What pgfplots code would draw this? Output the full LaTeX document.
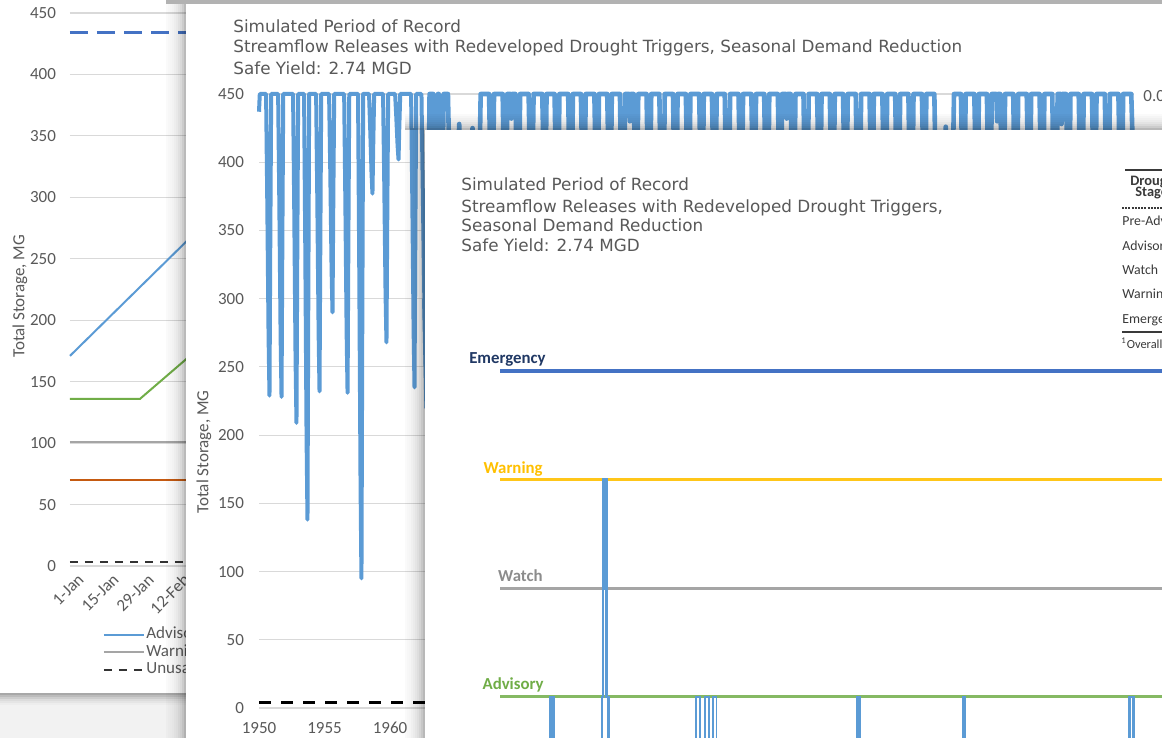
\documentclass[border=0pt]{standalone}
\usepackage{pgfplots}
\pgfplotsset{compat=1.18}
\usepackage{fontspec}
\setmainfont{Carlito}
\newfontfamily\dejavu{DejaVu Sans}
\definecolor{txt}{HTML}{595959}
\definecolor{gridc}{HTML}{D9D9D9}
\definecolor{sblue}{HTML}{5B9BD5}
\definecolor{dblue}{HTML}{4472C4}
\definecolor{sgreen}{HTML}{70AD47}
\definecolor{sgray}{HTML}{A5A5A5}
\definecolor{sbrown}{HTML}{C55A11}
\definecolor{sgold}{HTML}{FFC000}
\definecolor{navy}{HTML}{203864}
\definecolor{bgc}{HTML}{F2F2F2}
\definecolor{tabc}{HTML}{3A3A3A}
\newcommand\tickfont{\fontsize{8.5}{10}\selectfont}
\newcommand\titlefont{\dejavu\fontsize{8.4}{10}\selectfont}
\begin{document}
\begin{tikzpicture}
\useasboundingbox (0pt,0pt) rectangle (581pt,369pt);
\clip (0pt,0pt) rectangle (581pt,369pt);
\begin{scope}[x=0.5pt,y=0.5pt]
% page background and left panel
\fill[bgc] (0,0) rectangle (1162,738);
\fill[white] (0,45) rectangle (1162,738);
\foreach \b/\o in {43/0.30,41/0.22,39/0.15,37/0.09,35/0.05,33/0.02} {\fill[black,opacity=\o] (0,\b) rectangle ++(300,2);}
\end{scope}

% ---------------- left panel ----------------
\begin{axis}[at={(35pt,86pt)}, anchor=south west, scale only axis,
  width=150pt, height=276.5pt,
  xmin=1, xmax=121, ymin=0, ymax=450, clip=false,
  axis line style={draw=none}, major tick length=0pt,
  ymajorgrids, grid style={gridc, line width=0.6pt},
  ytick={0,50,...,450},
  xtick={1,15,29,43,57,71,85,99,113},
  xticklabels={1-Jan,15-Jan,29-Jan,12-Feb,26-Feb,11-Mar,25-Mar,8-Apr,22-Apr},
  /pgf/number format/assume math mode=true,
  tick label style={font=\tickfont, text=txt},
  yticklabel style={xshift=-3.5pt},
  xticklabel style={rotate=45, anchor=north east, xshift=3.5pt, yshift=-1.5pt},
  ylabel={Total Storage, MG},
  ylabel style={font=\tickfont, text=txt, at={(axis description cs:-0.1667,0.488)}, anchor=center},
  legend style={draw=none, fill=none, inner sep=0pt, font=\tickfont, text=txt,
    at={(axis description cs:0.108,-0.1076)}, anchor=north west, row sep=0.25pt,
    nodes={text height=5.5pt, text depth=1.5pt, inner sep=0.8pt}},
  legend cell align=left,
  legend image code/.code={\draw[#1] (0pt,0pt) -- (20pt,0pt);},
]
\addplot[sblue, line width=1pt] coordinates {(1,171) (47,263) (121,411)};
\addlegendentry{Advisory}
\addplot[sgray, line width=1pt] coordinates {(1,101) (121,101)};
\addlegendentry{Warning}
\addplot[black!80, line width=1pt, dash pattern=on 4pt off 3.5pt] coordinates {(1,3) (121,3)};
\addlegendentry{Unusable}
\addplot[forget plot, sgreen, line width=1pt] coordinates {(1,136) (29,136) (57,185) (121,290)};
\addplot[forget plot, sbrown, line width=1pt] coordinates {(1,70) (121,70)};
\addplot[forget plot, dblue, line width=1.2pt, dash pattern=on 9pt off 4.5pt] coordinates {(1,434) (121,434)};
\end{axis}

% ---------------- middle panel ----------------
\begin{scope}[x=0.5pt,y=0.5pt]
\foreach \a/\o in {166/0.02,168/0.03,170/0.04,172/0.05,174/0.07,176/0.09,178/0.12,180/0.15,182/0.2,184/0.27} {\fill[black,opacity=\o] (\a,0) rectangle ++(2,734);}
\fill[white] (186,0) rectangle (1162,734);
\fill[black!30] (166,734) rectangle (1162,738);
\node[anchor=base west, text=txt, font=\titlefont, inner sep=0pt] at (233,705) {Simulated Period of Record};
\node[anchor=base west, text=txt, font=\titlefont, inner sep=0pt] at (233,685) {Streamflow Releases with Redeveloped Drought Triggers, Seasonal Demand Reduction};
\node[anchor=base west, text=txt, font=\titlefont, inner sep=0pt] at (233,663) {Safe Yield: 2.74 MGD};
\node[anchor=west, text=txt, font=\tickfont, inner sep=0pt] at (1143,642) {0.00};
\end{scope}

\begin{axis}[at={(129.5pt,15pt)}, anchor=south west, scale only axis,
  width=437.5pt, height=307pt,
  xmin=1950, xmax=2016.79, ymin=0, ymax=450, clip=false,
  axis line style={draw=none}, major tick length=0pt,
  ymajorgrids, grid style={gridc, line width=0.6pt},
  ytick={0,50,...,450},
  xtick={1950,1955,1960,1965,1970,1975,1980,1985,1990,1995,2000,2005,2010,2015},
  xticklabels={1950,1955,1960,1965,1970,1975,1980,1985,1990,1995,2000,2005,2010,2015},
  /pgf/number format/assume math mode=true,
  tick label style={font=\tickfont, text=txt},
  yticklabel style={xshift=-4pt},
  xticklabel style={yshift=-3.5pt},
  ylabel={Total Storage, MG},
  ylabel style={font=\tickfont, text=txt, at={(axis description cs:-0.0629,0.417)}, anchor=center},
]
\addplot[black, line width=1.5pt, dash pattern=on 6pt off 5pt] coordinates {(1950,4) (2016.79,4)};
% storage, 1950-1962
\addplot[sblue, line width=2pt, line join=round] coordinates {
(1950.00,437) (1950.06,450)
(1950.54,450) (1950.63,373) (1950.73,273) (1950.80,229) (1950.86,340) (1950.93,450)
(1951.46,450) (1951.55,372) (1951.65,272) (1951.72,228) (1951.78,339) (1951.85,450)
(1952.60,450) (1952.69,366) (1952.79,257) (1952.86,209) (1952.92,330) (1952.99,450)
(1953.44,450) (1953.53,341) (1953.63,200) (1953.70,138) (1953.76,294) (1953.83,450)
(1954.36,450) (1954.45,374) (1954.55,276) (1954.62,232) (1954.68,341) (1954.75,450)
(1955.35,450) (1955.44,394) (1955.54,322) (1955.61,290) (1955.67,370) (1955.74,450)
(1956.50,450) (1956.59,373) (1956.69,275) (1956.76,231) (1956.82,340) (1956.89,450)
(1957.56,450) (1957.65,326) (1957.75,166) (1957.82,95) (1957.88,272) (1957.95,450)
(1958.40,450) (1958.49,424) (1958.59,392) (1958.66,377) (1958.72,413) (1958.79,450)
(1959.47,450) (1959.56,386) (1959.66,304) (1959.73,268) (1959.79,359) (1959.86,450)
(1960.39,450) (1960.48,433) (1960.58,412) (1960.65,402) (1960.71,426) (1960.78,450)
(1961.61,450) (1961.70,375) (1961.80,278) (1961.87,235) (1961.93,342) (1962.00,450)
(1962.40,450) (1962.50,380) (1962.62,300) (1962.80,220)
};
% storage, 1962-2016
\addplot[sblue, line width=2.3pt, line join=round] coordinates {
(1962.62,300) (1962.80,220) (1962.95,380) (1963.02,450)
(1963.30,450) (1963.40,390) (1963.55,400) (1963.66,450) (1963.72,450) (1963.80,400)
(1963.95,360) (1964.10,450) (1964.42,450) (1964.58,380) (1964.85,300) (1965.10,360)
(1965.28,428) (1965.38,380) (1965.70,290) (1966.00,350) (1966.30,425) (1966.42,370)
(1966.70,320) (1966.92,450)
(1967.56,450) (1967.66,400) (1967.80,330) (1967.94,450)
(1968.60,450) (1968.70,390) (1968.82,310) (1968.95,450)
(1969.20,450) (1969.26,432) (1969.32,450) (1969.57,450) (1969.67,395) (1969.80,320) (1969.93,450)
(1970.58,450) (1970.68,400) (1970.80,340) (1970.96,450)
(1971.62,450) (1971.72,405) (1971.83,350) (1971.95,450)
(1972.56,450) (1972.66,395) (1972.80,330) (1972.93,450)
(1973.60,450) (1973.70,390) (1973.82,320) (1973.96,450)
(1974.57,450) (1974.67,400) (1974.80,345) (1974.94,450)
(1975.60,450) (1975.70,395) (1975.82,335) (1975.95,450)
(1976.58,450) (1976.68,400) (1976.80,340) (1976.93,450)
(1977.55,450) (1977.65,390) (1977.80,310) (1977.95,450)
(1978.25,450) (1978.31,430) (1978.37,450) (1978.60,450) (1978.70,400) (1978.82,350) (1978.95,450)
(1979.58,450) (1979.68,395) (1979.80,330) (1979.94,450)
(1980.56,450) (1980.66,385) (1980.82,300) (1980.97,450)
(1981.60,450) (1981.70,390) (1981.82,320) (1981.95,450)
(1982.58,450) (1982.68,400) (1982.80,340) (1982.93,450)
(1983.60,450) (1983.70,395) (1983.82,330) (1983.95,450)
(1984.57,450) (1984.67,400) (1984.80,350) (1984.94,450)
(1985.55,450) (1985.65,385) (1985.80,300) (1985.96,450)
(1986.60,450) (1986.70,400) (1986.82,345) (1986.95,450)
(1987.58,450) (1987.68,395) (1987.80,325) (1987.94,450)
(1988.56,450) (1988.66,390) (1988.80,315) (1988.95,450)
(1989.60,450) (1989.70,400) (1989.82,340) (1989.93,450)
(1990.22,450) (1990.28,432) (1990.34,450) (1990.58,450) (1990.68,395) (1990.80,330) (1990.95,450)
(1991.56,450) (1991.66,385) (1991.80,305) (1991.96,450)
(1992.60,450) (1992.70,400) (1992.82,345) (1992.94,450)
(1993.57,450) (1993.67,390) (1993.80,320) (1993.95,450)
(1994.58,450) (1994.68,395) (1994.80,330) (1994.94,450)
(1995.55,450) (1995.65,380) (1995.80,290) (1995.96,450)
(1996.60,450) (1996.70,400) (1996.82,350) (1996.93,450)
(1997.58,450) (1997.68,395) (1997.80,325) (1997.95,450)
(1998.56,450) (1998.66,390) (1998.80,320) (1998.94,450)
(1999.57,450) (1999.67,385) (1999.80,300) (1999.96,450)
(2000.60,450) (2000.70,400) (2000.82,345) (2000.94,450)
(2001.55,450) (2001.65,390) (2001.85,310) (2002.15,360) (2002.42,426) (2002.55,385) (2002.80,300) (2003.05,450)
(2003.58,450) (2003.68,395) (2003.80,330) (2003.94,450)
(2004.60,450) (2004.70,400) (2004.82,340) (2004.95,450)
(2005.56,450) (2005.66,390) (2005.80,320) (2005.93,450)
(2006.28,450) (2006.34,430) (2006.40,450) (2006.58,450) (2006.68,395) (2006.80,330) (2006.95,450)
(2007.57,450) (2007.67,390) (2007.80,315) (2007.95,450)
(2008.60,450) (2008.70,400) (2008.82,345) (2008.94,450)
(2009.58,450) (2009.68,395) (2009.80,330) (2009.95,450)
(2010.55,450) (2010.65,385) (2010.80,300) (2010.96,450)
(2011.20,450) (2011.26,428) (2011.32,450) (2011.60,450) (2011.70,400) (2011.82,340) (2011.94,450)
(2012.57,450) (2012.67,390) (2012.80,320) (2012.95,450)
(2013.58,450) (2013.68,395) (2013.80,330) (2013.93,450)
(2014.56,450) (2014.66,390) (2014.80,315) (2014.95,450)
(2015.60,450) (2015.70,395) (2015.82,320) (2015.96,450)
(2016.58,450) (2016.70,410)
};
\end{axis}

% ---------------- right panel ----------------
\begin{scope}[x=0.5pt,y=0.5pt]
\foreach \b/\o in {622/0.02,620/0.04,618/0.06,616/0.08,614/0.11,612/0.15,610/0.2,608/0.28} {\fill[black,opacity=\o] (405,\b) rectangle ++(757,2);}
\foreach \a/\o in {405/0.02,407/0.03,409/0.04,411/0.06,413/0.08,415/0.1,417/0.13,419/0.17,421/0.22,423/0.28} {\fill[black,opacity=\o] (\a,0) rectangle ++(2,608);}
\fill[white] (425,0) rectangle (1162,608);
\node[anchor=base west, text=txt, font=\titlefont, inner sep=0pt] at (461,547) {Simulated Period of Record};
\node[anchor=base west, text=txt, font=\titlefont, inner sep=0pt] at (461,525) {Streamflow Releases with Redeveloped Drought Triggers,};
\node[anchor=base west, text=txt, font=\titlefont, inner sep=0pt] at (461,506) {Seasonal Demand Reduction};
\node[anchor=base west, text=txt, font=\titlefont, inner sep=0pt] at (461,486) {Safe Yield: 2.74 MGD};
\end{scope}

\begin{axis}[at={(250pt,0pt)}, anchor=south west, scale only axis,
  width=331pt, height=219pt,
  xmin=500, xmax=1162, ymin=0.6227, ymax=4.6533, hide axis]
\addplot[dblue, line width=1.6pt] coordinates {(500,4) (1162,4)};
\addplot[sgold!90!white, line width=1.6pt] coordinates {(500,3) (1162,3)};
\addplot[sgray, line width=1.5pt] coordinates {(500,2) (1162,2)};
\addplot[sgreen!85!white, line width=1.5pt] coordinates {(500,1) (1162,1)};
\addplot[sblue, line width=1.2pt] coordinates {
(500,0) (550.5,0) (550.5,1) (553.5,1) (553.5,0)
(601.7,0) (601.7,1) (603,1) (603,3) (604.2,3) (604.2,2) (605.2,2) (605.2,3) (606.5,3) (606.5,1) (608.3,1) (608.3,0)
(857,0) (857,1) (859.5,1) (859.5,0)
(963.5,0) (963.5,1) (964.5,1) (964.5,0)
(1129.5,0) (1129.5,1) (1133.5,1) (1133.5,0) (1162,0)};
\addplot[sblue, line width=0.8pt] coordinates {
(690,0) (696,0) (696,1) (700,1) (700,0) (705,0) (705,1) (709,1) (709,0)
(713,0) (713,1) (716.5,1) (716.5,0) (720,0)};
\end{axis}

\begin{scope}[x=0.5pt,y=0.5pt]
\node[anchor=base east, text=navy, font=\fontsize{8.4}{10}\selectfont\bfseries, inner sep=0pt] at (546,374.5) {Emergency};
\node[anchor=base east, text=sgold, font=\fontsize{8.4}{10}\selectfont\bfseries, inner sep=0pt] at (543,264.5) {Warning};
\node[anchor=base east, text=sgray!85!black, font=\fontsize{8.4}{10}\selectfont\bfseries, inner sep=0pt] at (543,156.5) {Watch};
\node[anchor=base east, text=sgreen, font=\fontsize{8.4}{10}\selectfont\bfseries, inner sep=0pt] at (544,48.5) {Advisory};
% table fragment at the right edge
\draw[tabc, line width=1pt] (1125,568) -- (1162,568);
\node[anchor=west, text=tabc, font=\fontsize{7.2}{8}\selectfont\bfseries, inner sep=0pt] at (1130,556) {Drought};
\node[anchor=west, text=tabc, font=\fontsize{7.2}{8}\selectfont\bfseries, inner sep=0pt] at (1135,545) {Stage};
\draw[tabc, line width=0.6pt, dash pattern=on 1pt off 0.6pt] (1122,530) -- (1162,530);
\node[anchor=west, text=tabc, font=\fontsize{6.9}{8}\selectfont, inner sep=0pt] at (1122,516) {Pre-Advisory};
\node[anchor=west, text=tabc, font=\fontsize{6.9}{8}\selectfont, inner sep=0pt] at (1122,491) {Advisory};
\node[anchor=west, text=tabc, font=\fontsize{6.9}{8}\selectfont, inner sep=0pt] at (1122,468) {Watch};
\node[anchor=west, text=tabc, font=\fontsize{6.9}{8}\selectfont, inner sep=0pt] at (1122,443) {Warning};
\node[anchor=west, text=tabc, font=\fontsize{6.9}{8}\selectfont, inner sep=0pt] at (1122,418) {Emergency};
\draw[tabc, line width=1pt] (1122,406) -- (1162,406);
\node[anchor=west, text=tabc, font=\fontsize{6.2}{7}\selectfont, inner sep=0pt] at (1121,395) {\textsuperscript{1}Overall};
\end{scope}
\end{tikzpicture}
\end{document}
